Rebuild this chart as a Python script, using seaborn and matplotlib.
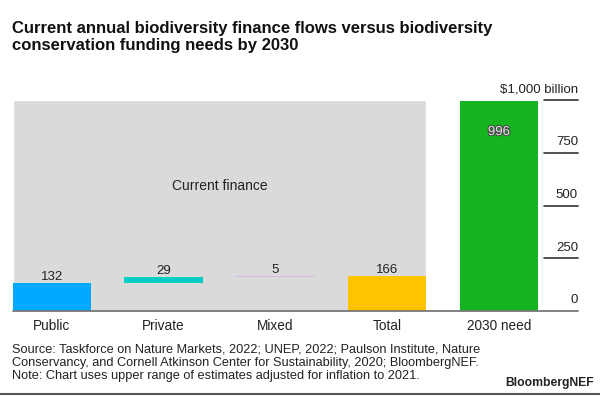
import numpy as np
import pandas as pd
import matplotlib
matplotlib.use("Agg")
import matplotlib.pyplot as plt
import matplotlib.patheffects as pe
import seaborn as sns

# data ($ billion)
categories = ["Public", "Private", "Mixed", "Total", "2030 need"]
values = [132, 29, 5, 166, 996]
bottoms = [0, 132, 161, 0, 0]
bar_colors = ["#00aaff", "#00cec3", "#d7b6ea", "#ffc300", "#14b51f"]
y_ticks = [0, 250, 500, 750, 1000]
y_tick_labels = ["0", "250", "500", "750", "$1,000 billion"]
current_span = 1000  # height of the grey "Current finance" panel

sns.set_theme(style="white")
plt.rcParams["font.family"] = ["Liberation Sans", "DejaVu Sans"]

df = pd.DataFrame({"category": categories, "value": values, "bottom": bottoms})

fig = plt.figure(figsize=(6, 3.96), dpi=100)
ax = fig.add_axes([12.7 / 600, 0.2146, (578 - 12.7) / 600, 0.5328])

# grey panel behind the current-finance bars
ax.bar(1.5, current_span, width=3.7, color="#dadada", zorder=0)

sns.barplot(data=df, x="category", y="value", bottom=df["bottom"], width=0.7,
            color=bar_colors[0], saturation=1, ax=ax, zorder=2)
for patch, c in zip(ax.patches[1:], bar_colors):
    patch.set_facecolor(c)
    patch.set_edgecolor("none")

# value labels
for i, (v, b) in enumerate(zip(values, bottoms)):
    if categories[i] == "2030 need":
        t = ax.text(i, v - 148, f"{v}", ha="center", va="center", fontsize=9.5,
                    color="#e6e6e6", zorder=4)
        t.set_path_effects([pe.withStroke(linewidth=1.6, foreground="#4a4a4a")])
    else:
        ax.text(i, b + v + 2, f"{v}", ha="center", va="bottom", fontsize=9.5,
                color="#222222", zorder=4)

ax.text(1.5, 592, "Current finance", ha="center", va="center", fontsize=10,
        color="#222222", zorder=4)

# right-hand scale drawn as short rules with labels sitting above them
x_right = 4.707
x_rule = 4.403
for t, lab in zip(y_ticks, y_tick_labels):
    if t > 0:
        ax.plot([x_rule, x_right], [t, t], color="#333333", lw=1.2, clip_on=False, zorder=3)
    ax.text(x_right, t + 22, lab, ha="right", va="bottom", fontsize=9.5,
            color="#222222", clip_on=False)
ax.plot([-0.35, x_right], [0, 0], color="#777777", lw=1.3, clip_on=False, zorder=3)

ax.set_xlim(-0.35, x_right)
ax.set_ylim(0, current_span)
ax.set_yticks([])
ax.set_xlabel("")
ax.set_ylabel("")
ax.tick_params(axis="x", length=0, pad=6, labelsize=9.8, labelcolor="#222222")
sns.despine(ax=ax, left=True, bottom=True)

fig.text(0.02, 1 - 21 / 396,
         "Current annual biodiversity finance flows versus biodiversity\n"
         "conservation funding needs by 2030",
         ha="left", va="top", fontsize=12, fontweight="bold", color="#111111",
         linespacing=1.2)

fig.text(0.02, 1 - 344 / 396,
         "Source: Taskforce on Nature Markets, 2022; UNEP, 2022; Paulson Institute, Nature\n"
         "Conservancy, and Cornell Atkinson Center for Sustainability, 2020; BloombergNEF.\n"
         "Note: Chart uses upper range of estimates adjusted for inflation to 2021.",
         ha="left", va="top", fontsize=9.2, color="#222222", linespacing=1.1)
fig.text(594 / 600, 1 - 383 / 396, "BloombergNEF", ha="right", va="center",
         fontsize=8.7, fontweight="bold", color="#222222")

fig.add_artist(plt.Line2D([0, 1], [1 - 394 / 396] * 2, color="#555555", lw=1.5))

fig.savefig("out.png", dpi=100)
